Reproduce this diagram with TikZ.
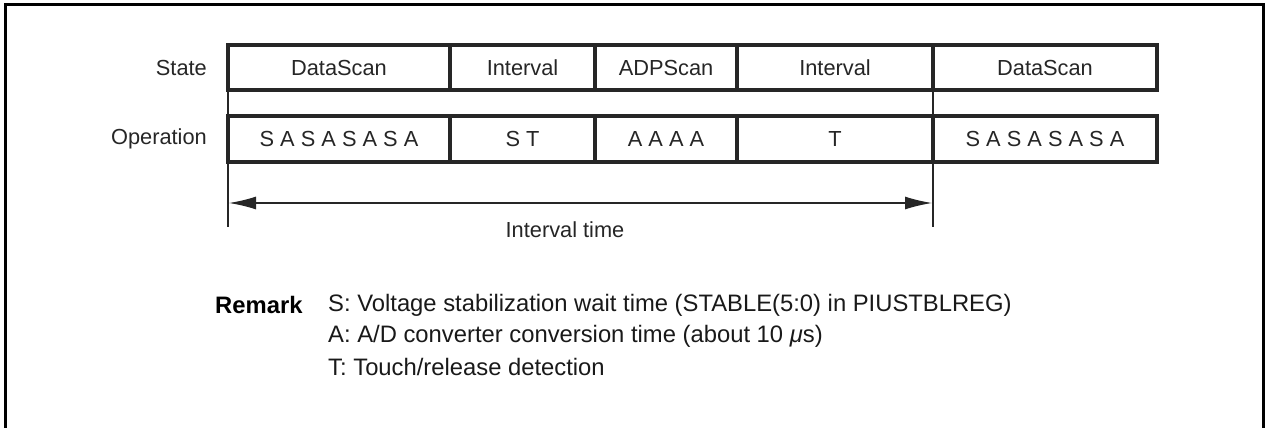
\documentclass[tikz,border=0pt]{standalone}
\usepackage{fontspec}
\setmainfont{Liberation Sans}
\usetikzlibrary{arrows.meta}
\begin{document}
\begin{tikzpicture}[x=1pt,y=-1pt,
  cell/.style={draw=black!85,line width=3.2pt,inner sep=0pt,font=\fontsize{21.8}{26}\selectfont,text=black!85},
  lbl/.style={anchor=east,inner sep=0pt,font=\fontsize{21.8}{26}\selectfont,text=black!85},
  guide/.style={draw=black!85,line width=1.8pt},
  dim/.style={draw=black!85,line width=1.4pt,{Latex[length=27pt,width=13pt]}-{Latex[length=27pt,width=13pt]}},
  rem/.style={anchor=west,inner sep=0pt,font=\fontsize{23.8}{28}\selectfont,text=black!90}]
\useasboundingbox (0,0) rectangle (1266,428);
\draw[line width=3pt] (5,430) -- (5,5) -- (1263,5) -- (1263,430);
% vertical guides
\coordinate (g1t) at (228,60);
\coordinate (g1b) at (228,227);
\coordinate (g2t) at (933,60);
\coordinate (g2b) at (933,227);
\draw[guide] (g1t) -- (g1b);
\draw[guide] (g2t) -- (g2b);
% State row
\foreach \n/\a/\b/\t in {s1/228/450/DataScan, s2/450/595/Interval, s3/595/737/ADPScan, s4/737/933/Interval, s5/933/1157/DataScan}{
  \node[cell,fill=white,minimum width={\b-\a},minimum height=45pt] (\n) at ({(\a+\b)/2},67.5) {\t};
}
\foreach \n/\a/\b/\t in {o1/228/450/{S A S A S A S A}, o2/450/595/{S T}, o3/595/737/{A A A A}, o4/737/933/T, o5/933/1157/{S A S A S A S A}}{
  \node[cell,fill=white,minimum width={\b-\a},minimum height=46pt] (\n) at ({(\a+\b)/2},139) {\t};
}
\node[lbl] (state) at (207,67.5) {State};
\node[lbl] (op) at (207,139) {Operation};
% dimension arrow
\coordinate (al) at (229,203);
\coordinate (ar) at (932,203);
\draw[dim] (al) -- (ar);
\node[inner sep=0pt,font=\fontsize{21.8}{26}\selectfont,text=black!85] (it) at (565,230) {Interval time};
% remark
\node[anchor=west,inner sep=0pt,font=\fontsize{23.8}{28}\selectfont\bfseries] (rm) at (215,305) {Remark};
\node[rem] (r1) at (328,305) {S: Voltage stabilization wait time (STABLE(5:0) in PIUSTBLREG)};
\node[rem] (r2) at (328,336) {A: A/D converter conversion time (about 10 {\itshape μ}s)};
\node[rem] (r3) at (328,367) {T: Touch/release detection};
\end{tikzpicture}
\end{document}
